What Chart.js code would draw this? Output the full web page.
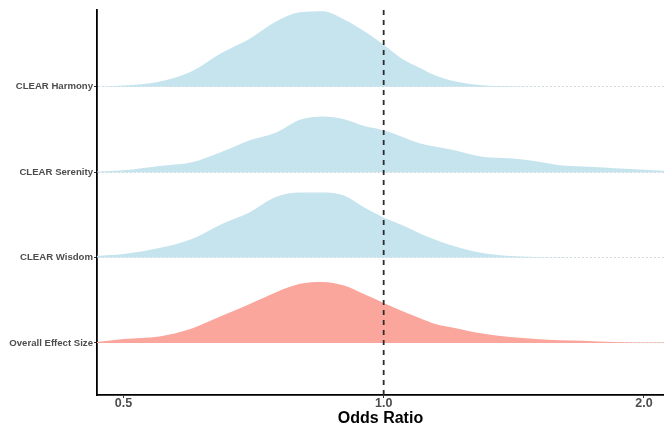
<!DOCTYPE html>
<html>
<head>
<meta charset="utf-8">
<script src="https://cdn.jsdelivr.net/npm/chart.js@4/dist/chart.umd.min.js"></script>
<style>
  html, body { margin: 0; padding: 0; background: #ffffff; }
  #wrap { width: 664px; height: 433px; }
</style>
</head>
<body>
<div id="wrap"><canvas id="c" width="664" height="433"></canvas></div>
<script>
// ---- data ----
const categories = ['Overall Effect Size', 'CLEAR Wisdom', 'CLEAR Serenity', 'CLEAR Harmony'];
const oddsRatio = [0.466, 0.5, 0.55, 0.6, 0.65, 0.7, 0.75, 0.8, 0.85, 0.9, 0.95, 1.0, 1.05, 1.1, 1.15, 1.2, 1.3, 1.4, 1.5, 1.6, 1.7, 1.8, 1.9, 2.0, 2.11];
// ridge heights (in units of the spacing between rows)
const overall  = [0.012, 0.047, 0.076, 0.170, 0.317, 0.457, 0.592, 0.692, 0.715, 0.672, 0.569, 0.469, 0.375, 0.293, 0.219, 0.182, 0.111, 0.068, 0.045, 0.030, 0.025, 0.015, 0.009, 0.006, 0.004];
const wisdom   = [0.020, 0.041, 0.111, 0.217, 0.394, 0.532, 0.709, 0.762, 0.762, 0.727, 0.586, 0.469, 0.380, 0.286, 0.207, 0.141, 0.053, 0.018, 0.008, 0.004, 0.001, 0.001, 0.001, 0.001, 0.001];
const serenity = [0.008, 0.023, 0.074, 0.117, 0.240, 0.375, 0.463, 0.615, 0.653, 0.621, 0.540, 0.492, 0.416, 0.340, 0.299, 0.264, 0.182, 0.164, 0.129, 0.082, 0.068, 0.056, 0.041, 0.029, 0.018];
const harmony  = [0.002, 0.015, 0.059, 0.182, 0.399, 0.563, 0.762, 0.873, 0.885, 0.789, 0.650, 0.492, 0.328, 0.223, 0.129, 0.070, 0.018, 0.007, 0.002, 0, 0, 0, 0, 0, 0];
const xTickValues = [0.5, 1.0, 2.0];
const referenceOR = 1.0;
const xRange = [0.466, 2.11];
const yRange = [0.39, 4.9];

const seriesByRow = [overall, wisdom, serenity, harmony];
const rowColors = ['#fba69c', '#c6e4ee', '#c6e4ee', '#c6e4ee'];

const ridgeSets = seriesByRow.map((dens, i) => {
  const row = i + 1;
  return {
    label: categories[i],
    data: oddsRatio.map((x, j) => ({ x: x, y: row + dens[j] })),
    borderWidth: 0,
    borderColor: 'rgba(0,0,0,0)',
    backgroundColor: rowColors[i],
    fill: { value: row },
    pointRadius: 0,
    cubicInterpolationMode: 'monotone',
    order: 10 - i
  };
});

const refLineSet = {
  label: 'ref',
  data: [{ x: referenceOR, y: yRange[0] }, { x: referenceOR, y: yRange[1] }],
  borderColor: '#2b2b2b',
  borderWidth: 1.8,
  borderDash: [5, 5],
  borderDashOffset: 0,
  pointRadius: 0,
  fill: false,
  order: -1
};

Chart.defaults.font.family = "'Liberation Sans', Arial, Helvetica, sans-serif";
Chart.defaults.animation = false;

new Chart(document.getElementById('c'), {
  type: 'line',
  data: { datasets: [refLineSet].concat(ridgeSets) },
  options: {
    responsive: false,
    animation: false,
    layout: { padding: { top: 10, right: 0, left: 0, bottom: 0 } },
    plugins: { legend: { display: false }, tooltip: { enabled: false } },
    scales: {
      x: {
        type: 'logarithmic',
        min: xRange[0],
        max: xRange[1],
        afterBuildTicks: (s) => { s.ticks = xTickValues.map(v => ({ value: v })); },
        afterFit: (s) => { s.height = 38; },
        ticks: {
          callback: (v) => Number(v).toFixed(1),
          color: '#4d4d4d',
          font: { size: 12.5, weight: 'bold' },
          padding: -2,
          maxRotation: 0,
          autoSkip: false
        },
        grid: { drawOnChartArea: false, drawTicks: true, tickLength: 3, tickColor: '#333333', tickWidth: 1 },
        border: { display: true, color: '#000000', width: 1.8 },
        title: {
          display: true,
          text: 'Odds Ratio',
          color: '#000000',
          font: { size: 16, weight: 'bold' },
          padding: { top: 0, bottom: 5 }
        }
      },
      y: {
        type: 'linear',
        min: yRange[0],
        max: yRange[1],
        afterBuildTicks: (s) => { s.ticks = categories.map((c, i) => ({ value: i + 1 })); },
        afterFit: (s) => { s.width = 97; },
        ticks: {
          callback: (v) => categories[Math.round(v) - 1],
          color: '#4d4d4d',
          font: { size: 9.6, weight: 'bold' },
          padding: 1,
          autoSkip: false
        },
        grid: {
          drawOnChartArea: true,
          color: 'rgba(195,205,210,0.8)',
          lineWidth: 1,
          drawTicks: true,
          tickLength: 3,
          tickColor: '#333333',
          tickWidth: 1,
          tickBorderDash: []
        },
        border: { display: true, color: '#000000', width: 1.8, dash: [2, 2] }
      }
    }
  }
});
</script>
</body>
</html>
